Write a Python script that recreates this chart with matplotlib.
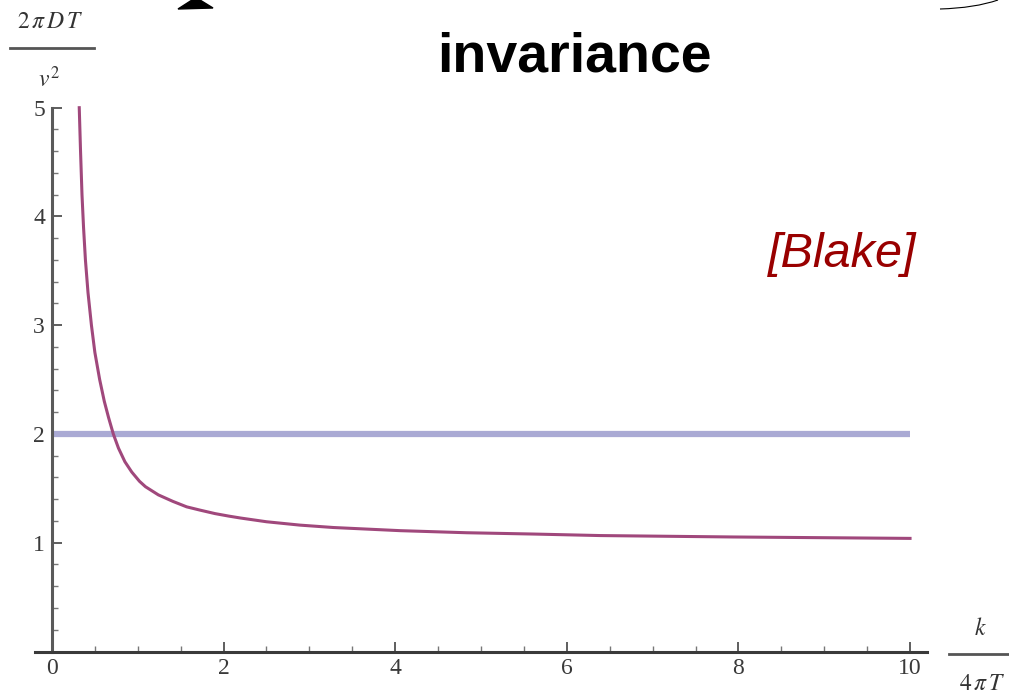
import numpy as np
import matplotlib as mpl
mpl.use('Agg')
from matplotlib import pyplot as plt
from matplotlib.lines import Line2D
from matplotlib.patches import Polygon, PathPatch
from matplotlib.path import Path
from matplotlib.ticker import MultipleLocator, FixedLocator

# curve: 2*pi*D*T/v^2 against k/(4*pi*T)
k_vals = [0.318, 0.333, 0.350, 0.368, 0.39, 0.42, 0.46, 0.50, 0.556, 0.61, 0.66,
          0.715, 0.775, 0.85, 0.93, 1.02, 1.09, 1.24, 1.41, 1.57, 1.725, 1.90,
          2.06, 2.20, 2.50, 2.89, 3.28, 4.06, 4.83, 5.61, 6.39, 7.94, 10.0]
d_vals = [5.0, 4.6, 4.2, 3.9, 3.6, 3.3, 3.0, 2.75, 2.5, 2.3, 2.15,
          2.0, 1.87, 1.745, 1.65, 1.565, 1.515, 1.44, 1.38, 1.33, 1.30, 1.268,
          1.245, 1.227, 1.193, 1.162, 1.14, 1.111, 1.092, 1.080, 1.066, 1.053, 1.040]
# flat reference value
bound_x = [0, 10]
bound_y = [2, 2]

x_ticks = [0, 2, 4, 6, 8, 10]
y_ticks = [1, 2, 3, 4, 5]

W, H = 1009, 693
fig = plt.figure(figsize=(W / 100, H / 100), dpi=100)
plt.rcParams['mathtext.fontset'] = 'stix'


def px(x, y):
    # pixel position -> figure fraction
    return x / W, 1 - y / H


ax = fig.add_axes([34.8 / W, 1 - 651.5 / H, (927.2 - 34.8) / W, (651.5 - 107.7) / H])
ax.set_xlim(-0.2, 10.2)
ax.set_ylim(0, 5)

ax.plot(bound_x, bound_y, color='#aaaad4', lw=4.5, solid_capstyle='butt', zorder=2)
ax.plot(k_vals, d_vals, color='#a0487c', lw=2.2, zorder=3, clip_on=False,
        solid_joinstyle='round')

for s in ['top', 'right']:
    ax.spines[s].set_visible(False)
ax.spines['left'].set_position(('data', 0))
ax.spines['left'].set_bounds(0, 5)
ax.spines['left'].set_color('#5a5a5a')
ax.spines['left'].set_linewidth(2.2)
ax.spines['bottom'].set_position(('data', 0))
ax.spines['bottom'].set_color('#3a3a3a')
ax.spines['bottom'].set_linewidth(2.2)
ax.patch.set_visible(False)

ax.xaxis.set_major_locator(FixedLocator(x_ticks))
ax.xaxis.set_minor_locator(MultipleLocator(0.5))
ax.yaxis.set_major_locator(FixedLocator(y_ticks))
ax.yaxis.set_minor_locator(MultipleLocator(0.2))
ax.set_xticklabels([str(v) for v in x_ticks])
ax.set_yticklabels([str(v) for v in y_ticks])
ax.tick_params(which='major', direction='in', length=7, width=1.1, color='#333333',
               labelsize=17, labelcolor='#3a3a3a', pad=5)
ax.tick_params(which='minor', direction='in', length=4, width=1.0, color='#777777')
for lab in ax.get_xticklabels() + ax.get_yticklabels():
    lab.set_family('Liberation Serif')

# axis labels as stacked fractions
fig.text(*px(50, 28), r'$2\,\pi\,D\,T$', fontsize=17, ha='center', va='baseline', color='#333333')
fig.add_artist(Line2D([10 / W, 94 / W], [1 - 48 / H] * 2, color='#555555', lw=2))
fig.text(*px(49, 87), r'$v^2$', fontsize=17, ha='center', va='baseline', color='#333333')

fig.text(*px(980, 635), r'$k$', fontsize=17, ha='center', va='baseline', color='#333333')
fig.add_artist(Line2D([949 / W, 1008 / W], [1 - 654 / H] * 2, color='#555555', lw=2))
fig.text(*px(982, 690), r'$4\,\pi\,T$', fontsize=17, ha='center', va='baseline', color='#333333')

# slide leftovers
fig.text(*px(574, 72), 'invariance', fontsize=40, fontweight='bold',
         family='Liberation Sans', ha='center', va='baseline', color='black')
fig.text(*px(842.5, 266.7), '[Blake]', fontsize=35, style='italic',
         family='Liberation Sans', ha='center', va='baseline', color='#990000')

tri = [px(178, 9), px(192, 0), px(200, 0), px(213, 8)]
fig.add_artist(Polygon(tri, closed=True, color='black', transform=fig.transFigure))
arc = Path([px(940, 9), px(975, 8), px(998, 0)], [Path.MOVETO, Path.CURVE3, Path.CURVE3])
fig.add_artist(PathPatch(arc, fill=False, lw=0.8, color='black', transform=fig.transFigure))

fig.savefig('out.png', dpi=100)
